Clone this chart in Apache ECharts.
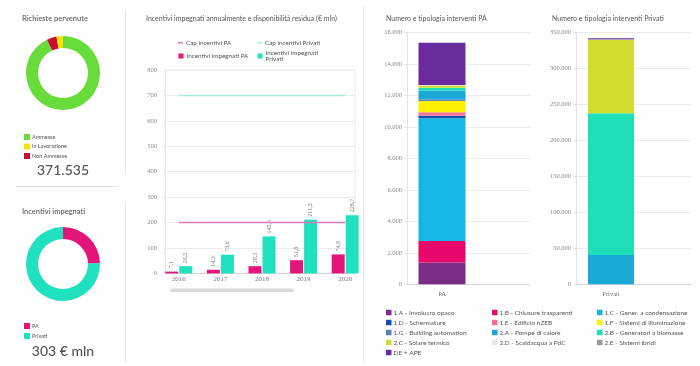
<!DOCTYPE html>
<html><head><meta charset="utf-8">
<script src="https://cdn.jsdelivr.net/npm/echarts@6/dist/echarts.min.js"></script>
<style>html,body{margin:0;padding:0;background:#fff}#c{width:700px;height:366px}</style>
</head><body><div id="c"></div>
<script>
// ---- data ----
const richiesteNames = ['Ammesse', 'Non Ammesse', 'In Lavorazione'];
const richiesteValues = [345035, 16000, 10500];
const richiesteLegend = ['Ammesse', 'In Lavorazione', 'Non Ammesse'];
const richiesteTotale = '371.535';

const incentiviNames = ['PA', 'Privati'];
const incentiviValues = [74.8, 228.7];
const incentiviTotale = '303 € mln';

const anni = ['2016', '2017', '2018', '2019', '2020'];
const impegnatiPA = [7.1, 14.3, 28.3, 51.8, 74.8];
const impegnatiPrivati = [28.5, 73.6, 145.6, 211.5, 228.7];
const capPA = [200, 200, 200, 200, 200];
const capPrivati = [700, 700, 700, 700, 700];
const yTicksAnnui = [0, 800, 100];

const tipologie = ['1.A - Involucro opaco', '1.B - Chiusure trasparenti', '1.C - Gener. a condensazione',
  '1.D - Schermature', '1.E - Edificio nZEB', '1.F - Sistemi di illuminazione',
  '1.G - Building automation', '2.A - Pompe di calore', '2.B - Generatori a biomasse',
  '2.C - Solare termico', '2.D - Scaldacqua a PdC', '2.E - Sistemi ibridi', 'DE + APE'];
const interventiPA = [1380, 1370, 7790, 160, 220, 720, 100, 570, 170, 150, 20, 10, 2680];
const interventiPrivati = [0, 0, 0, 0, 0, 0, 0, 40700, 196800, 101800, 300, 800, 1200];
const yTicksPA = [0, 16000, 2000];
const yTicksPrivati = [0, 350000, 50000];

// ---- styles ----
const tipoColors = ['#7a2c86', '#e8086c', '#16b6e6', '#1550b0', '#f0739c', '#fff200',
  '#5b7cc0', '#1aa9d6', '#1fdfb8', '#d0dc30', '#e2eaf0', '#9a9a9a', '#6a2c9c'];
const SANS = 'Lato';
const SERIF = 'Liberation Serif';
const fmt = v => String(v).replace(/\B(?=(\d{3})+(?!\d))/g, '.');
const dec = v => String(v).replace('.', ',');

const chart = echarts.init(document.getElementById('c'), null, {renderer: 'canvas'});

function yAx(gi, ticks, show, margin) {
  return {
    type: 'value', gridIndex: gi, min: ticks[0], max: ticks[1], interval: ticks[2], show: show,
    axisLine: {show: true, lineStyle: {color: '#e4e4e4'}},
    axisTick: {show: margin < 8, length: 3, lineStyle: {color: '#e4e4e4'}},
    splitLine: {show: true, lineStyle: {color: '#ebebeb'}},
    axisLabel: {show: true, margin: margin, fontSize: 6.5, color: '#888', fontFamily: SERIF, formatter: v => fmt(v)}
  };
}
function xLineAx(gi, data) {
  return {type: 'category', gridIndex: gi, data: data,
    axisLine: {show: true, lineStyle: {color: '#d6d6d6'}}, axisTick: {show: false}, axisLabel: {show: false}};
}
function xLabelAx(gi, data, margin) {
  return {type: 'category', gridIndex: gi, data: data,
    axisLine: {show: false}, axisTick: {show: false},
    axisLabel: {margin: margin, fontSize: 6.5, color: '#777', fontFamily: SERIF}};
}

const series = [
  {type: 'pie', center: [63, 73], radius: [25, 37], startAngle: 90, clockwise: true, silent: true,
    label: {show: false}, labelLine: {show: false},
    data: richiesteNames.map((n, i) => ({name: n, value: richiesteValues[i]})),
    color: ['#68dc3a', '#c8102e', '#ffe100']},
  {type: 'pie', center: [63, 264], radius: [25, 37], startAngle: 90, clockwise: true, silent: true,
    label: {show: false}, labelLine: {show: false},
    data: incentiviNames.map((n, i) => ({name: n, value: incentiviValues[i]})),
    color: ['#e3157a', '#1fe0bf']},
  {type: 'bar', name: 'Incentivi impegnati PA', xAxisIndex: 1, yAxisIndex: 1, data: impegnatiPA,
    barWidth: 13, barGap: '8%', itemStyle: {color: '#e3157a'},
    label: {show: true, position: 'top', rotate: 90, align: 'left', verticalAlign: 'middle', distance: 3,
      fontSize: 6, color: '#777', fontFamily: SERIF, formatter: p => dec(p.value)}},
  {type: 'bar', name: 'Incentivi impegnati Privati', xAxisIndex: 1, yAxisIndex: 1, data: impegnatiPrivati,
    barWidth: 13, barGap: '8%', itemStyle: {color: '#1fe0bf'},
    label: {show: true, position: 'top', rotate: 90, align: 'left', verticalAlign: 'middle', distance: 3,
      fontSize: 6, color: '#777', fontFamily: SERIF, formatter: p => dec(p.value)}},
  {type: 'line', name: 'Cap incentivi PA', xAxisIndex: 1, yAxisIndex: 1, data: capPA, symbol: 'none',
    lineStyle: {color: '#e07ab5', width: 1.5}, itemStyle: {color: '#e07ab5'}},
  {type: 'line', name: 'Cap incentivi Privati', xAxisIndex: 1, yAxisIndex: 1, data: capPrivati, symbol: 'none',
    lineStyle: {color: '#a6ecdc', width: 1.5}, itemStyle: {color: '#a6ecdc'}}
];
tipologie.forEach((n, i) => {
  series.push({type: 'bar', name: n, stack: 'pa', xAxisIndex: 3, yAxisIndex: 3, barWidth: 47,
    data: [interventiPA[i]], itemStyle: {color: tipoColors[i]}});
});
tipologie.forEach((n, i) => {
  series.push({type: 'bar', name: n, stack: 'pr', xAxisIndex: 5, yAxisIndex: 5, barWidth: 46,
    data: [interventiPrivati[i]], itemStyle: {color: tipoColors[i]}});
});

const legTxt = {fontSize: 6, color: '#555', fontFamily: SANS, padding: [0, 0, 0, -3]};
function colLegend(names, left) {
  return {orient: 'vertical', left: left, top: 303.5, itemWidth: 5.5, itemHeight: 5.5, itemGap: 2,
    icon: 'rect', data: names, textStyle: Object.assign({lineHeight: 8}, legTxt, {fontSize: 6.5})};
}
function oneLegend(name, left, top, w, h, formatter) {
  const l = {orient: 'vertical', left: left, top: top, itemWidth: w, itemHeight: h, icon: 'rect',
    data: [name], textStyle: Object.assign({lineHeight: 6}, legTxt, {fontSize: 6.3, padding: [0, 0, 0, -2]})};
  if (formatter) l.formatter = formatter;
  return l;
}

const option = {
  animation: false,
  backgroundColor: '#fff',
  title: [
    {text: 'Richieste pervenute', left: 17, top: 10, textStyle: {fontSize: 7.5, fontWeight: 600, color: '#666', fontFamily: SANS}},
    {text: 'Incentivi impegnati', left: 17, top: 203, textStyle: {fontSize: 7.5, fontWeight: 600, color: '#666', fontFamily: SANS}},
    {text: 'Incentivi impegnati annualmente e disponibilità residua (€ mln)', left: 141, top: 10, textStyle: {fontSize: 7, fontWeight: 'normal', color: '#555', fontFamily: SANS}},
    {text: 'Numero e tipologia interventi PA', left: 381, top: 10, textStyle: {fontSize: 7, fontWeight: 'normal', color: '#555', fontFamily: SANS}},
    {text: 'Numero e tipologia interventi Privati', left: 547, top: 10, textStyle: {fontSize: 7, fontWeight: 'normal', color: '#555', fontFamily: SANS}}
  ],
  legend: [
    {orient: 'vertical', left: 19, top: 128.5, itemWidth: 6, itemHeight: 6, itemGap: 2.5, icon: 'rect',
      data: richiesteLegend, textStyle: Object.assign({lineHeight: 7}, legTxt, {fontSize: 5.5})},
    {orient: 'vertical', left: 19, top: 317.5, itemWidth: 6, itemHeight: 6, itemGap: 3, icon: 'rect',
      data: incentiviNames, textStyle: Object.assign({lineHeight: 7}, legTxt, {fontSize: 5.5})},
    oneLegend('Cap incentivi PA', 173, 34.7, 5, 1.6),
    oneLegend('Cap incentivi Privati', 252, 34.7, 5, 1.6),
    oneLegend('Incentivi impegnati PA', 173.5, 48, 5, 5),
    oneLegend('Incentivi impegnati Privati', 252.5, 45, 5, 5,
      n => 'Incentivi impegnati\nPrivati'),
    colLegend([tipologie[0], tipologie[3], tipologie[6], tipologie[9], tipologie[12]], 381),
    colLegend([tipologie[1], tipologie[4], tipologie[7], tipologie[10]], 487),
    colLegend([tipologie[2], tipologie[5], tipologie[8], tipologie[11]], 592)
  ],
  grid: [
    {left: 165, right: 345, top: 70, bottom: 92.6, show: true, borderColor: '#ececec', borderWidth: 1, outerBoundsMode: 'none'},
    {left: 158, right: 334, top: 70, bottom: 92.6, outerBoundsMode: 'none'},
    {left: 407, right: 170, top: 32.3, bottom: 81.7, outerBoundsMode: 'none'},
    {left: 407, width: 70, top: 32.3, bottom: 81.7, outerBoundsMode: 'none'},
    {left: 576, right: 9, top: 32.3, bottom: 81.7, outerBoundsMode: 'none'},
    {left: 576, width: 70, top: 32.3, bottom: 81.7, outerBoundsMode: 'none'}
  ],
  xAxis: [
    xLineAx(0, anni),
    Object.assign(xLabelAx(1, anni, 2), {axisLabel: {margin: 2, fontSize: 7, color: '#777', fontFamily: SERIF}}),
    xLineAx(2, ['PA']),
    xLabelAx(3, ['PA'], 6),
    xLineAx(4, ['Privati']),
    xLabelAx(5, ['Privati'], 6)
  ],
  yAxis: [
    yAx(0, yTicksAnnui, true, 8),
    yAx(1, yTicksAnnui, false, 8),
    yAx(2, yTicksPA, true, 5),
    yAx(3, yTicksPA, false, 5),
    yAx(4, yTicksPrivati, true, 5),
    yAx(5, yTicksPrivati, false, 5)
  ],
  graphic: [
    {type: 'line', shape: {x1: 125.5, y1: 11, x2: 125.5, y2: 174}, style: {stroke: '#e2e2e2', lineWidth: 1}},
    {type: 'line', shape: {x1: 16, y1: 186.5, x2: 118, y2: 186.5}, style: {stroke: '#e2e2e2', lineWidth: 1}},
    {type: 'line', shape: {x1: 125.5, y1: 202, x2: 125.5, y2: 362}, style: {stroke: '#e2e2e2', lineWidth: 1}},
    {type: 'line', shape: {x1: 363.5, y1: 6, x2: 363.5, y2: 362}, style: {stroke: '#e2e2e2', lineWidth: 1}},
    {type: 'rect', shape: {x: 170, y: 288.5, width: 124, height: 3.5, r: 1.7}, style: {fill: '#d9d9d9'}},
    {type: 'text', x: 63, y: 170, style: {text: richiesteTotale, textAlign: 'center', textVerticalAlign: 'middle',
      fontSize: 14, fontFamily: SANS, fill: '#555', fontWeight: 500}},
    {type: 'text', x: 63, y: 351, style: {text: incentiviTotale, textAlign: 'center', textVerticalAlign: 'middle',
      fontSize: 14, fontFamily: SANS, fill: '#555', fontWeight: 500}}
  ],
  series: series
};
chart.setOption(option);
</script>
</body></html>
